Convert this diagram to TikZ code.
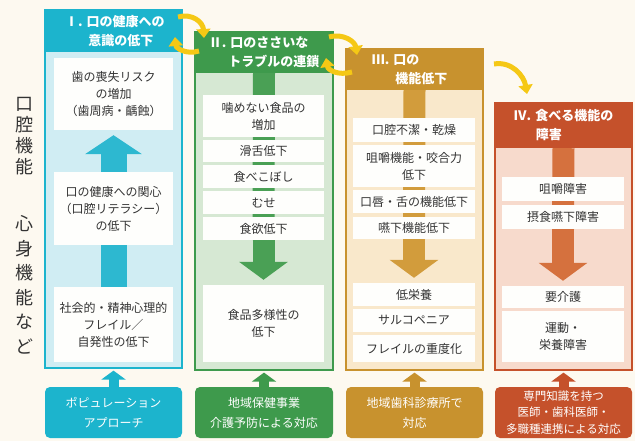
\documentclass[tikz,border=0pt]{standalone}
\usepackage{fontspec}
\setmainfont{Noto Sans CJK JP}
\usetikzlibrary{arrows.meta}
\definecolor{bg}{HTML}{FDF9F0}
\definecolor{cyH}{HTML}{1CB4CD}
\definecolor{cyB}{HTML}{D0EDF3}
\definecolor{cyA}{HTML}{2DB8D0}
\definecolor{grH}{HTML}{3E9A4C}
\definecolor{grB}{HTML}{D6E8D3}
\definecolor{grA}{HTML}{4AA055}
\definecolor{goH}{HTML}{C8922E}
\definecolor{goB}{HTML}{F9E8CB}
\definecolor{goA}{HTML}{D29C3C}
\definecolor{rdH}{HTML}{C5512B}
\definecolor{rdB}{HTML}{F7DACC}
\definecolor{rdA}{HTML}{D5713E}
\definecolor{wbx}{HTML}{FEFEFC}
\definecolor{txt}{HTML}{333333}
\definecolor{yel}{HTML}{F5C815}
\pgfdeclarelayer{back}
\pgfdeclarelayer{mid}
\pgfsetlayers{back,mid,main}
\newcommand\rectnode[7]{\node[#7,minimum width={(#4-#2)*1pt},minimum height={(#5-#3)*1pt}] (#1) at ({(#2+#4)/2},{(#3+#5)/2}) {#6};}
\tikzset{
  colbody/.style={line width=1.2pt,inner sep=0pt},
  hdr/.style={inner sep=0pt,text=white,align=left,font=\fontsize{13}{19}\selectfont\bfseries},
  wbox/.style={fill=wbx,inner sep=0pt,text=txt,align=center,font=\fontsize{12}{17}\selectfont},
  btm/.style={inner sep=0pt,rounded corners=5pt,text=white,align=center,font=\fontsize{12}{20}\selectfont},
  bar/.style={line width=22pt},
  bigarr/.style={line width=22pt,-{Triangle[width=48pt,length=18pt]},shorten >=5pt},
  smallarr/.style={line width=10pt,-{Triangle[width=24pt,length=9pt]},shorten >=2pt},
  yarr/.style={yel,line width=5pt,-{Triangle[width=14pt,length=9pt]}},
  vlab/.style={text=txt,align=center,inner sep=0pt}
}
\begin{document}
\begin{tikzpicture}[x=1pt,y=-1pt]
\useasboundingbox (0,0) rectangle (635,441);
% column bodies
\begin{pgfonlayer}{back}
\fill[bg] (0,0) rectangle (635,441);
\rectnode{col1}{45}{10}{182}{368}{}{colbody,fill=cyB,draw=cyH}
\rectnode{col2}{195}{32}{333}{370}{}{colbody,fill=grB,draw=grH}
\rectnode{col3}{346}{49}{483}{370}{}{colbody,fill=goB,draw=goH}
\rectnode{col4}{495}{103}{632}{370}{}{colbody,fill=rdB,draw=rdH}
\end{pgfonlayer}
% side labels
\node[vlab,font=\fontsize{18}{21}\selectfont] (lab1) at (25,136) {口\\腔\\機\\能};
\node[vlab,font=\fontsize{18}{24.5}\selectfont] (lab2) at (25,285) {心\\身\\機\\能\\な\\ど};
% headers
\rectnode{h1}{45}{10}{182}{52}{\hspace*{0.2em}Ⅰ. 口の健康への\\\hspace*{2em}意識の低下}{hdr,fill=cyH}
\rectnode{h2}{195}{32}{333}{73}{Ⅱ. 口のささいな\\\hspace*{1.5em}トラブルの連鎖}{hdr,fill=grH}
\rectnode{h3}{346}{49}{483}{90}{Ⅲ. 口の\hspace*{2.9em}\\\hspace*{1.8em}機能低下}{hdr,fill=goH}
\rectnode{h4}{495}{103}{632}{148}{Ⅳ. 食べる機能の\\\hspace*{1.7em}障害}{hdr,fill=rdH}
% column I boxes
\rectnode{b1a}{54}{58}{173}{130}{歯の喪失リスク\\の増加\\（歯周病・齲蝕）}{wbox}
\rectnode{b1b}{54}{172}{173}{245}{口の健康への関心\\（口腔リテラシー）\\の低下}{wbox}
\rectnode{b1c}{54}{287}{173}{362}{社会的・精神心理的\\フレイル／\\自発性の低下}{wbox}
% column II boxes
\rectnode{b2a}{203}{95}{324}{137}{噛めない食品の\\増加}{wbox}
\rectnode{b2b}{203}{140}{324}{162}{滑舌低下}{wbox}
\rectnode{b2c}{203}{165}{324}{188}{食べこぼし}{wbox}
\rectnode{b2d}{203}{191}{324}{214}{むせ}{wbox}
\rectnode{b2e}{203}{217}{324}{240}{食欲低下}{wbox}
\rectnode{b2f}{203}{285}{324}{362}{食品多様性の\\低下}{wbox}
% column III boxes
\rectnode{b3a}{353}{118}{475}{142}{口腔不潔・乾燥}{wbox}
\rectnode{b3b}{353}{145}{475}{187}{咀嚼機能・咬合力\\低下}{wbox}
\rectnode{b3c}{353}{190}{475}{213}{口唇・舌の機能低下}{wbox}
\rectnode{b3d}{353}{217}{475}{239}{嚥下機能低下}{wbox}
\rectnode{b3e}{353}{283}{475}{306}{低栄養}{wbox}
\rectnode{b3f}{353}{309}{475}{332}{サルコペニア}{wbox}
\rectnode{b3g}{353}{335}{475}{362}{フレイルの重度化}{wbox}
% column IV boxes
\rectnode{b4a}{502}{177}{624}{201}{咀嚼障害}{wbox}
\rectnode{b4b}{502}{205}{624}{229}{摂食嚥下障害}{wbox}
\rectnode{b4c}{502}{286}{624}{308}{要介護}{wbox}
\rectnode{b4d}{502}{311}{624}{362}{運動・\\栄養障害}{wbox}
% bottom boxes
\rectnode{q1}{45}{387}{182}{438}{ポピュレーション\\アプローチ}{btm,fill=cyH}
\rectnode{q2}{195}{387}{333}{438}{地域保健事業\\介護予防による対応}{btm,fill=grH}
\rectnode{q3}{346}{387}{483}{438}{地域歯科診療所で\\対応}{btm,fill=goH}
\rectnode{q4}{495}{387}{632}{438}{専門知識を持つ\\医師・歯科医師・\\多職種連携による対応}{btm,fill=rdH,font=\fontsize{11.5}{16.5}\selectfont}
% inner bars and arrows
\begin{pgfonlayer}{mid}
\draw[bigarr,cyA,line width=26pt,-{Triangle[width=56pt,length=19pt]}] (b1c.north) -- (b1a.south);
\draw[bar,grA] (h2.south) -- (b2e.south);
\draw[bigarr,grA] (b2e.south) -- (b2f.north);
\draw[bar,goA] (h3.south) -- (b3d.south);
\draw[bigarr,goA] (b3d.south) -- (b3e.north);
\draw[bar,rdA] (h4.south) -- (b4b.south);
\draw[bigarr,rdA] (b4b.south) -- (b4c.north);
\end{pgfonlayer}
% bottom arrows
\draw[smallarr,cyH] (q1.north) -- (col1.south);
\draw[smallarr,grH] (q2.north) -- (col2.south);
\draw[smallarr,goH] (q3.north) -- (col3.south);
\draw[smallarr,rdH] (q4.north) -- (col4.south);
% yellow cycle arrows
\coordinate (y1s) at (178,17);
\coordinate (y1e) at (204,38);
\coordinate (y2s) at (199,51);
\coordinate (y2e) at (175,37);
\draw[yarr] (y1s) .. controls (192,13) and (203,22) .. (y1e);
\draw[yarr] (y2s) .. controls (186,55) and (176,48) .. (y2e);
\coordinate (y3s) at (329,37);
\coordinate (y3e) at (357,55);
\coordinate (y4s) at (352,72);
\coordinate (y4e) at (326,58);
\draw[yarr] (y3s) .. controls (344,33) and (355,42) .. (y3e);
\draw[yarr] (y4s) .. controls (338,76) and (328,70) .. (y4e);
\coordinate (y5s) at (494,64);
\coordinate (y5e) at (527,94);
\draw[yarr] (y5s) .. controls (512,61) and (524,76) .. (y5e);
\end{tikzpicture}
\end{document}
